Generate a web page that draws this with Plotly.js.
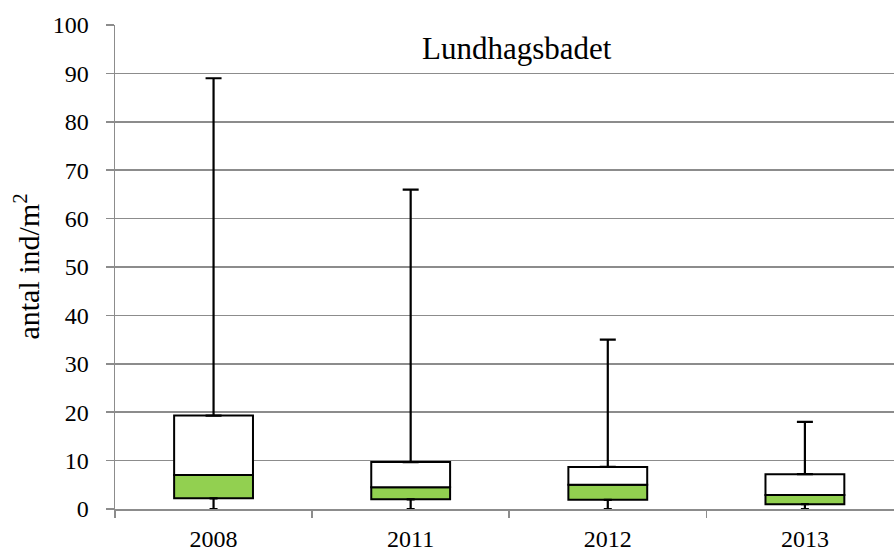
<!DOCTYPE html>
<html>
<head>
<meta charset="utf-8">
<script src="https://cdn.plot.ly/plotly-3.0.1.min.js"></script>
<style>html,body{margin:0;padding:0;background:#fff;}#chart{width:894px;height:552px;}</style>
</head>
<body>
<div id="chart"></div>
<script>
var years = ['2008', '2011', '2012', '2013'];
var minVals = [0, 0, 0, 0];
var q1Vals = [2.2, 2.0, 1.9, 1.0];
var medianVals = [7.0, 4.5, 5.0, 2.9];
var q3Vals = [19.3, 9.7, 8.7, 7.2];
var maxVals = [89, 66, 35, 18];
var chartTitle = 'Lundhagsbadet';
var yTitle = 'antal ind/m<sup>2</sup>';

var fontFam = '"Liberation Serif", "Times New Roman", serif';
var greenH = q1Vals.map(function(v, i){ return medianVals[i] - v; });
var whiteH = medianVals.map(function(v, i){ return q3Vals[i] - v; });
var upperErr = maxVals.map(function(v, i){ return v - q3Vals[i]; });
var lowerErr = q1Vals.map(function(v, i){ return v - minVals[i]; });
var zeros = years.map(function(){ return 0; });

var traces = [
  {type: 'bar', x: years, y: greenH, base: q1Vals, width: 0.4,
   marker: {color: '#92D050', line: {color: '#000', width: 2}}, hoverinfo: 'skip'},
  {type: 'bar', x: years, y: whiteH, base: medianVals, width: 0.4,
   marker: {color: '#ffffff', line: {color: '#000', width: 2}}, hoverinfo: 'skip'},
  {type: 'scatter', mode: 'markers', x: years, y: q3Vals, marker: {opacity: 0, size: 1},
   error_y: {type: 'data', symmetric: false, array: upperErr, arrayminus: zeros, color: '#000', thickness: 2.2, width: 8}, hoverinfo: 'skip'},
  {type: 'scatter', mode: 'markers', x: years, y: q1Vals, marker: {opacity: 0, size: 1},
   error_y: {type: 'data', symmetric: false, array: zeros, arrayminus: lowerErr, color: '#000', thickness: 2.2, width: 4}, hoverinfo: 'skip'}
];

var layout = {
  width: 894, height: 552,
  margin: {l: 114.5, r: 0, t: 25, b: 43},
  paper_bgcolor: '#fff', plot_bgcolor: '#fff',
  showlegend: false,
  barmode: 'overlay',
  font: {family: fontFam, size: 24, color: '#000'},
  xaxis: {type: 'category', range: [-0.5, 3.452], showgrid: false, zeroline: false,
          showline: true, linecolor: '#8c8c8c', linewidth: 1.5,
          ticks: 'outside', tickson: 'boundaries', ticklen: 7, tickcolor: '#8c8c8c', tickwidth: 1.5,
          ticklabelstandoff: 8,
          tickfont: {family: fontFam, size: 24, color: '#000'}},
  yaxis: {range: [0, 100], dtick: 10, tick0: 0, showgrid: true, gridcolor: '#8c8c8c', gridwidth: 1.5,
          zeroline: false, showline: true, linecolor: '#8c8c8c', linewidth: 1.5,
          ticks: 'outside', ticklen: 8, tickcolor: '#8c8c8c', tickwidth: 1.5,
          ticklabelstandoff: 12,
          tickfont: {family: fontFam, size: 24, color: '#000'}},
  annotations: [
    {text: chartTitle, xref: 'paper', yref: 'paper', x: 0.516, y: 0.952,
     xanchor: 'center', yanchor: 'middle', showarrow: false,
     font: {family: fontFam, size: 31, color: '#000'}},
    {text: yTitle, xref: 'paper', yref: 'paper', x: -0.1135, y: 0.5,
     textangle: -90, xanchor: 'center', yanchor: 'middle', showarrow: false,
     font: {family: fontFam, size: 30, color: '#000'}}
  ]
};

Plotly.newPlot('chart', traces, layout, {staticPlot: true, displayModeBar: false});
</script>
</body>
</html>
